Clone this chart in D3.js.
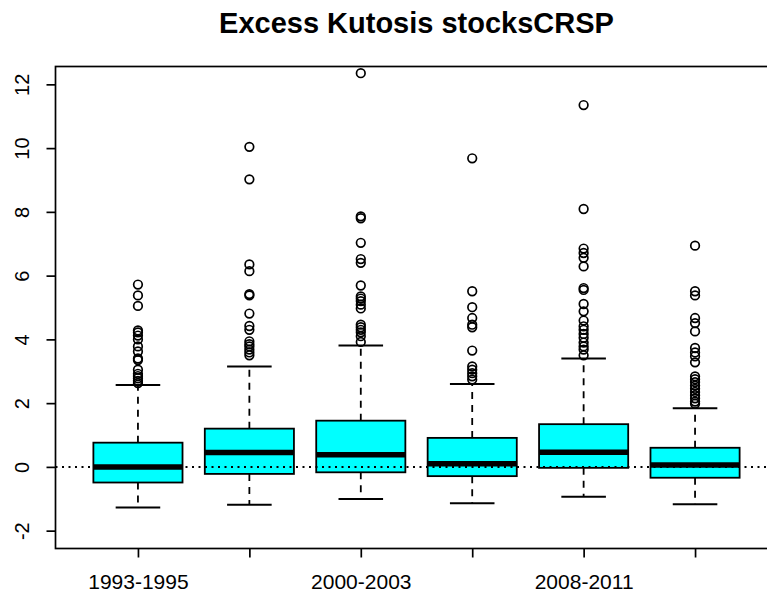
<!DOCTYPE html>
<html>
<head>
<meta charset="utf-8">
<script src="https://cdn.jsdelivr.net/npm/d3@7"></script>
<style>
  html, body { margin: 0; padding: 0; background: #fff; }
  svg { display: block; font-family: "Liberation Sans", Arial, sans-serif; }
</style>
</head>
<body>
<svg id="chart" width="767" height="594"></svg>
<script>
// ---- data ----
const title = "Excess Kutosis stocksCRSP";
const categories = ["1993-1995", "1996-1999", "2000-2003", "2004-2007", "2008-2011", "2012-2015"];
const tickLabels = ["1993-1995", "", "2000-2003", "", "2008-2011", ""];
const lowerWhisker = [-1.27, -1.19, -1.01, -1.14, -0.94, -1.17];
const q1 = [-0.49, -0.22, -0.17, -0.29, -0.03, -0.34];
const median = [0.00, 0.45, 0.38, 0.10, 0.46, 0.06];
const q3 = [0.76, 1.20, 1.45, 0.91, 1.34, 0.60];
const upperWhisker = [2.57, 3.15, 3.81, 2.60, 3.40, 1.84];
const outliers = [
  [5.72, 5.38, 5.05, 4.28, 4.22, 4.12, 4.00, 3.78, 3.62, 3.40, 3.35, 3.05, 2.92, 2.85, 2.78, 2.70, 2.63],
  [10.04, 9.02, 6.35, 6.14, 5.42, 5.38, 4.81, 4.42, 4.30, 3.94, 3.85, 3.78, 3.68, 3.59, 3.50],
  [12.35, 7.86, 7.80, 7.03, 6.52, 6.40, 5.69, 5.35, 5.28, 5.20, 5.09, 4.97, 4.46, 4.38, 4.30, 4.22, 4.10, 3.92],
  [9.68, 5.51, 5.01, 4.67, 4.46, 4.38, 3.65, 3.15, 3.05, 2.94, 2.84, 2.74],
  [11.35, 8.09, 6.85, 6.71, 6.56, 6.29, 5.61, 5.55, 5.11, 4.88, 4.59, 4.41, 4.30, 4.17, 4.05, 3.90, 3.78, 3.68, 3.50],
  [6.94, 5.51, 5.38, 4.67, 4.51, 4.25, 3.73, 3.59, 3.47, 3.28, 2.84, 2.75, 2.66, 2.55, 2.45, 2.35, 2.25, 2.15, 2.05, 1.98]
];
const yTicks = [-2, 0, 2, 4, 6, 8, 10, 12];
const refLine = 0;

// ---- layout ----
const svg = d3.select("#chart");
const plot = { left: 55.5, top: 66.5, width: 722, height: 482 };
const n = categories.length;

const x = d3.scaleLinear()
  .domain([0.5 - 0.04 * n, n + 0.5 + 0.04 * n])
  .range([plot.left, plot.left + plot.width]);
const y = d3.scaleLinear()
  .domain([-2 - 0.56, 12 + 0.56])
  .range([plot.top + plot.height, plot.top]);

const unit = x(2) - x(1);
const boxW = 0.8 * unit;
const capW = 0.4 * unit;

const g = svg.append("g");

// boxes
categories.forEach((c, i) => {
  const cx = x(i + 1);
  const grp = g.append("g");
  // whiskers (dashed)
  grp.append("line").attr("x1", cx).attr("x2", cx)
    .attr("y1", y(q3[i])).attr("y2", y(upperWhisker[i]))
    .attr("stroke", "#000").attr("stroke-width", 1.8).attr("stroke-dasharray", "7,6");
  grp.append("line").attr("x1", cx).attr("x2", cx)
    .attr("y1", y(q1[i])).attr("y2", y(lowerWhisker[i]))
    .attr("stroke", "#000").attr("stroke-width", 1.8).attr("stroke-dasharray", "7,6");
  // caps
  [upperWhisker[i], lowerWhisker[i]].forEach(v => {
    grp.append("line").attr("x1", cx - capW / 2).attr("x2", cx + capW / 2)
      .attr("y1", y(v)).attr("y2", y(v))
      .attr("stroke", "#000").attr("stroke-width", 2);
  });
  // box
  grp.append("rect")
    .attr("x", cx - boxW / 2).attr("width", boxW)
    .attr("y", y(q3[i])).attr("height", y(q1[i]) - y(q3[i]))
    .attr("fill", "#00ffff").attr("stroke", "#000").attr("stroke-width", 1.8);
  // median
  grp.append("line").attr("x1", cx - boxW / 2).attr("x2", cx + boxW / 2)
    .attr("y1", y(median[i])).attr("y2", y(median[i]))
    .attr("stroke", "#000").attr("stroke-width", 5.5);
  // outliers
  grp.selectAll("circle").data(outliers[i]).enter().append("circle")
    .attr("cx", cx).attr("cy", d => y(d)).attr("r", 4.3)
    .attr("fill", "none").attr("stroke", "#000").attr("stroke-width", 1.7);
});

// reference line (dotted)
g.append("line")
  .attr("x1", plot.left).attr("x2", plot.left + plot.width)
  .attr("y1", y(refLine)).attr("y2", y(refLine))
  .attr("stroke", "#000").attr("stroke-width", 2).attr("stroke-dasharray", "2,4.5");

// frame
g.append("rect")
  .attr("x", plot.left).attr("y", plot.top)
  .attr("width", plot.width).attr("height", plot.height)
  .attr("fill", "none").attr("stroke", "#000").attr("stroke-width", 1.7);

// y axis
const yAxis = d3.axisLeft(y).tickValues(yTicks).tickSize(9).tickPadding(0).tickFormat(d => d);
const ya = svg.append("g").attr("transform", `translate(${plot.left},0)`).call(yAxis);
ya.select(".domain").remove();
ya.selectAll(".tick line").attr("stroke", "#000").attr("stroke-width", 1.7);
ya.selectAll(".tick text")
  .attr("x", 0).attr("dy", null)
  .attr("transform", `translate(${28.5 - plot.left},0) rotate(-90)`)
  .attr("text-anchor", "middle")
  .attr("fill", "#000")
  .style("font-size", "20px");

// x axis
const xAxis = d3.axisBottom(x).tickValues(d3.range(1, n + 1)).tickSize(9).tickPadding(0)
  .tickFormat((d, i) => tickLabels[i]);
const xa = svg.append("g").attr("transform", `translate(0,${plot.top + plot.height})`).call(xAxis);
xa.select(".domain").remove();
xa.selectAll(".tick line").attr("stroke", "#000").attr("stroke-width", 1.7);
xa.selectAll(".tick text")
  .attr("y", 40).attr("dy", null)
  .attr("fill", "#000")
  .style("font-size", "21px");

// title
svg.append("text")
  .attr("x", plot.left + plot.width / 2).attr("y", 33)
  .attr("text-anchor", "middle")
  .style("font-size", "29px").style("font-weight", "bold")
  .text(title);
</script>
</body>
</html>
